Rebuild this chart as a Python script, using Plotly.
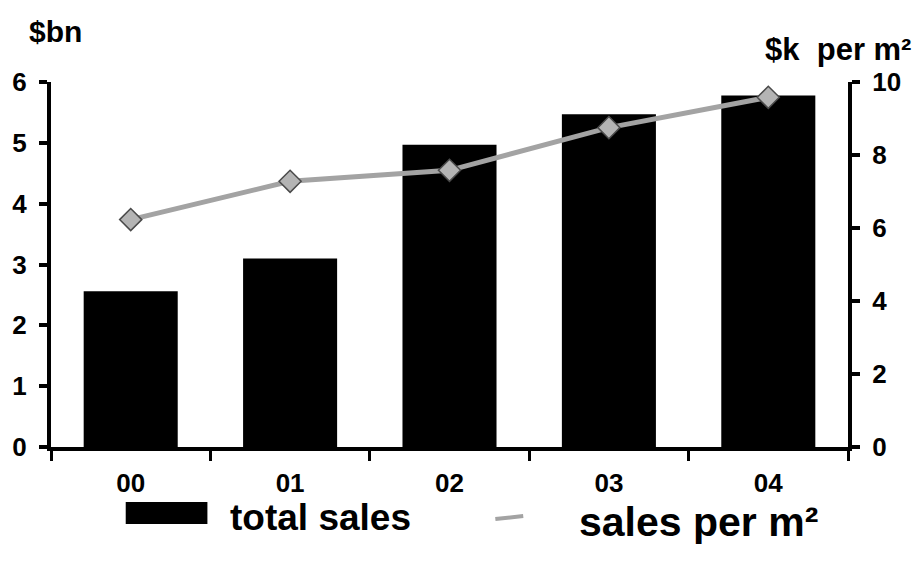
import plotly.graph_objects as go

# Data
years = ["00", "01", "02", "03", "04"]
total_sales_bn = [2.56, 3.10, 4.97, 5.47, 5.78]
sales_per_m2_k = [6.23, 7.28, 7.58, 8.75, 9.58]

W, H = 915, 564
L, R, T, B = 48, 67, 82, 117
PW, PH = W - L - R, H - T - B


def px(x):
    return (x - L) / PW


def py(y):
    return (H - B - y) / PH


FONT = "Liberation Sans, Arial, sans-serif"
bold = dict(family=FONT, color="black", weight="bold")

fig = go.Figure()
fig.add_trace(go.Bar(
    x=years, y=total_sales_bn, name="total sales",
    marker=dict(color="black", line=dict(width=0)),
    width=0.59, showlegend=False,
))
fig.add_trace(go.Scatter(
    x=years, y=sales_per_m2_k, name="sales per m²", yaxis="y2",
    mode="lines+markers",
    line=dict(color="#a3a3a3", width=5),
    marker=dict(symbol="diamond", size=17, color="#b4b4b4",
                line=dict(color="#4a4a4a", width=1.5)),
    showlegend=False,
))

fig.update_layout(
    width=W, height=H,
    margin=dict(l=L, r=R, t=T, b=B, pad=0),
    paper_bgcolor="white", plot_bgcolor="white",
    xaxis=dict(
        type="category", range=[-0.5, 4.5],
        showline=True, linecolor="black", linewidth=4,
        ticks="outside", tickson="boundaries", ticklen=10, tickwidth=3,
        tickcolor="black", showgrid=False, zeroline=False,
        tickfont=dict(size=26, **bold), ticklabelstandoff=10,
    ),
    yaxis=dict(
        range=[0, 6], dtick=1,
        showline=True, linecolor="black", linewidth=4,
        ticks="outside", ticklen=8, tickwidth=4, tickcolor="black",
        showgrid=False, zeroline=False,
        tickfont=dict(size=26, **bold), ticklabelstandoff=7,
    ),
    yaxis2=dict(
        range=[0, 10], dtick=2, overlaying="y", side="right",
        showline=True, linecolor="black", linewidth=4,
        ticks="outside", ticklen=8, tickwidth=4, tickcolor="black",
        showgrid=False, zeroline=False,
        tickfont=dict(size=26, **bold), ticklabelstandoff=7,
    ),
)

# Axis unit captions
fig.add_annotation(text="$bn", xref="paper", yref="paper",
                   x=px(24), y=py(32), xanchor="left", yanchor="middle",
                   showarrow=False, font=dict(size=30, **bold))
fig.add_annotation(text="$k\u00a0\u00a0per m²", xref="paper", yref="paper",
                   x=px(913), y=py(50), xanchor="right", yanchor="middle",
                   showarrow=False, font=dict(size=31, **bold))

# Legend drawn below the plot
fig.add_shape(type="rect", xref="paper", yref="paper",
              x0=px(123), x1=px(205), y0=py(524), y1=py(502),
              fillcolor="black", line=dict(width=0))
fig.add_annotation(text="total sales", xref="paper", yref="paper",
                   x=px(226), y=py(517), xanchor="left", yanchor="middle",
                   showarrow=False, font=dict(size=37, **bold))
fig.add_shape(type="line", xref="paper", yref="paper",
              x0=px(494), x1=px(522), y0=py(519), y1=py(516),
              line=dict(color="#a3a3a3", width=4))
fig.add_annotation(text="sales\u00a0per\u00a0m²", xref="paper", yref="paper",
                   x=px(576), y=py(522), xanchor="left", yanchor="middle",
                   showarrow=False, font=dict(size=41, **bold))

fig.write_html("out.html")
